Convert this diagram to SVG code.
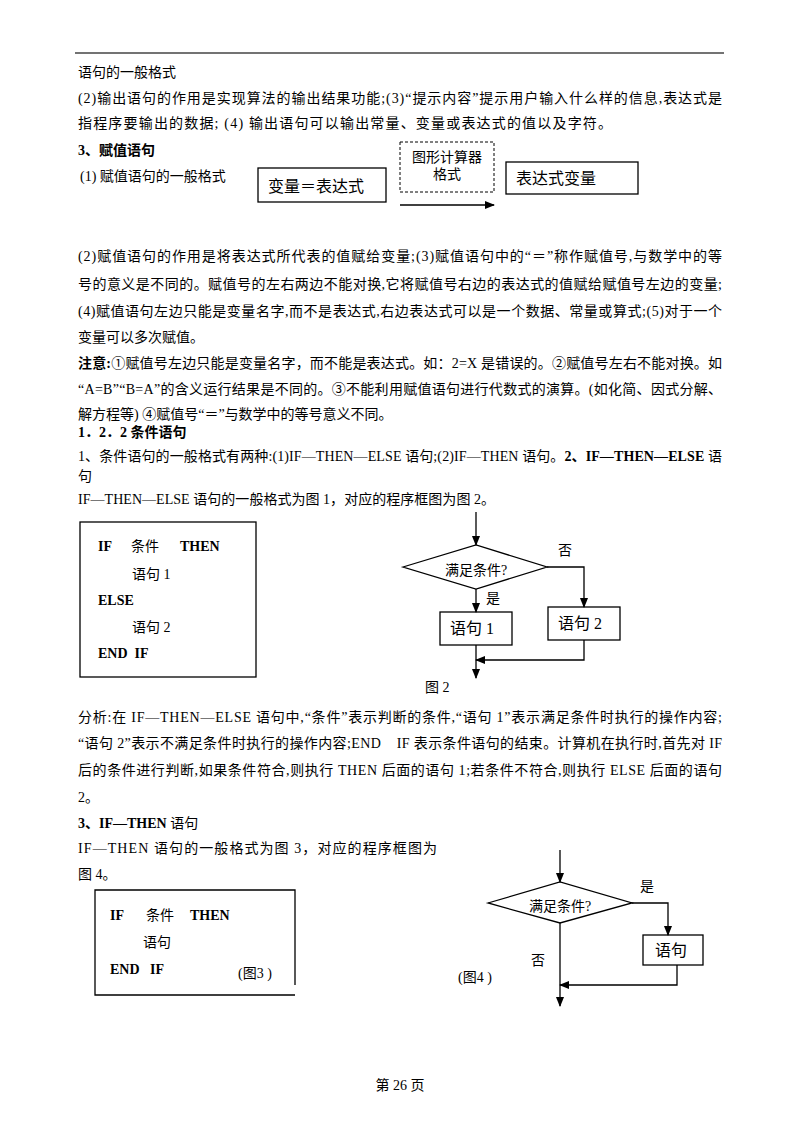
<svg xmlns="http://www.w3.org/2000/svg" width="800" height="1132" viewBox="0 0 800 1132">
<style>
text{font-family:"Liberation Serif","Noto Sans CJK SC",serif;font-size:14px;fill:#000;white-space:pre}
.b{font-weight:bold}
.l{font-size:16px}
.box{fill:#fff;stroke:#000;stroke-width:1.3}
.ln{fill:none;stroke:#000;stroke-width:1.3}
</style>
<defs><marker id="a" viewBox="0 0 10 10" refX="9" refY="5" markerWidth="8" markerHeight="8" orient="auto"><path d="M0,1L10,5L0,9z" fill="#000"/></marker></defs>
<rect width="800" height="1132" fill="#fff"/>
<line x1="75" y1="53" x2="724" y2="53" stroke="#444" stroke-width="1.5"/>
<text x="78" y="77">语句的一般格式</text>
<text x="78" y="103" textLength="644" lengthAdjust="spacing">(2)输出语句的作用是实现算法的输出结果功能;(3)“提示内容”提示用户输入什么样的信息,表达式是</text>
<text x="78" y="128" textLength="534" lengthAdjust="spacing">指程序要输出的数据; (4) 输出语句可以输出常量、变量或表达式的值以及字符。</text>
<text x="78" y="155" class="b">3、赋值语句</text>
<text x="80" y="181">(1) 赋值语句的一般格式</text>
<g id="n1"><rect class="box" x="258" y="168" width="128" height="34"/><text x="268" y="192" class="l">变量＝表达式</text></g>
<g id="n2"><rect x="400" y="142" width="94" height="50" fill="none" stroke="#000" stroke-dasharray="3,2"/><text x="447" y="162" text-anchor="middle">图形计算器</text><text x="447" y="179" text-anchor="middle">格式</text></g>
<g id="n3"><rect class="box" x="506" y="162" width="132" height="32"/><text x="516" y="184" class="l">表达式变量</text></g>
<g id="c0"><line class="ln" x1="400" y1="205" x2="494" y2="205" marker-end="url(#a)"/></g>
<text x="78" y="261" textLength="644" lengthAdjust="spacing">(2)赋值语句的作用是将表达式所代表的值赋给变量;(3)赋值语句中的“＝”称作赋值号,与数学中的等</text>
<text x="78" y="289" textLength="644" lengthAdjust="spacing">号的意义是不同的。赋值号的左右两边不能对换,它将赋值号右边的表达式的值赋给赋值号左边的变量;</text>
<text x="78" y="316" textLength="644" lengthAdjust="spacing">(4)赋值语句左边只能是变量名字,而不是表达式,右边表达式可以是一个数据、常量或算式;(5)对于一个</text>
<text x="78" y="342">变量可以多次赋值。</text>
<text x="78" y="368" textLength="644" lengthAdjust="spacing"><tspan class="b">注意:</tspan>①赋值号左边只能是变量名字，而不能是表达式。如：2=X 是错误的。②赋值号左右不能对换。如</text>
<text x="78" y="394" textLength="644" lengthAdjust="spacing">“A=B”“B=A”的含义运行结果是不同的。③不能利用赋值语句进行代数式的演算。(如化简、因式分解、</text>
<text x="78" y="419">解方程等) ④赋值号“＝”与数学中的等号意义不同。</text>
<text x="78" y="437" class="b">1．2．2 条件语句</text>
<text x="78" y="461" textLength="644" lengthAdjust="spacing">1、条件语句的一般格式有两种:(1)IF—THEN—ELSE 语句;(2)IF—THEN 语句。<tspan class="b">2、IF—THEN—ELSE</tspan> 语</text>
<text x="78" y="481">句</text>
<text x="78" y="504" textLength="417" lengthAdjust="spacing">IF—THEN—ELSE 语句的一般格式为图 1，对应的程序框图为图 2。</text>
<g id="f1"><rect class="box" x="80" y="522" width="176" height="155"/>
<text x="98" y="551" class="b">IF</text><text x="131" y="551">条件</text><text x="180" y="551" class="b">THEN</text>
<text x="132" y="579">语句 1</text>
<text x="98" y="605" class="b">ELSE</text>
<text x="132" y="632">语句 2</text>
<text x="98" y="658" class="b">END  IF</text></g>
<g id="d2"><polygon class="box" points="403,567 476,545 547,567 476,589"/><text x="476" y="575" text-anchor="middle">满足条件?</text></g>
<g id="s1"><rect class="box" x="440" y="612" width="72" height="33"/><text x="450" y="634" class="l">语句 1</text></g>
<g id="s2"><rect class="box" x="548" y="607" width="72" height="33"/><text x="558" y="629" class="l">语句 2</text></g>
<g id="c2">
<line class="ln" x1="476" y1="512" x2="476" y2="545" marker-end="url(#a)"/>
<line class="ln" x1="476" y1="589" x2="476" y2="612" marker-end="url(#a)"/>
<polyline class="ln" points="547,567 584,567 584,607" marker-end="url(#a)"/>
<polyline class="ln" points="584,640 584,660 476,660" marker-end="url(#a)"/>
<line class="ln" x1="476" y1="645" x2="476" y2="678" marker-end="url(#a)"/>
</g>
<text x="558" y="555">否</text><text x="486" y="603">是</text><text x="425" y="692">图 2</text>
<text x="78" y="722" textLength="644" lengthAdjust="spacing">分析:在 IF—THEN—ELSE 语句中,“条件”表示判断的条件,“语句 1”表示满足条件时执行的操作内容;</text>
<text x="78" y="748" textLength="644" lengthAdjust="spacing">“语句 2”表示不满足条件时执行的操作内容;END    IF 表示条件语句的结束。计算机在执行时,首先对 IF</text>
<text x="78" y="775" textLength="644" lengthAdjust="spacing">后的条件进行判断,如果条件符合,则执行 THEN 后面的语句 1;若条件不符合,则执行 ELSE 后面的语句</text>
<text x="78" y="802">2。</text>
<text x="78" y="828"><tspan class="b">3、IF—THEN</tspan> 语句</text>
<text x="78" y="853" textLength="359" lengthAdjust="spacing">IF—THEN 语句的一般格式为图 3，对应的程序框图为</text>
<text x="78" y="879">图 4。</text>
<g id="f3"><polyline class="ln" points="295,985 295,890 95,890 95,995 295,995"/>
<text x="110" y="920" class="b">IF</text><text x="146" y="920">条件</text><text x="190" y="920" class="b">THEN</text>
<text x="143" y="947">语句</text>
<text x="110" y="974" class="b">END   IF</text><text x="238" y="978">(图3 )</text></g>
<g id="d4"><polygon class="box" points="488,903 560,882 632,903 560,923"/><text x="560" y="911" text-anchor="middle">满足条件?</text></g>
<g id="s4"><rect class="box" x="643" y="935" width="60" height="30"/><text x="655" y="956" class="l">语句</text></g>
<g id="c4">
<line class="ln" x1="560" y1="850" x2="560" y2="882" marker-end="url(#a)"/>
<polyline class="ln" points="632,903 668,903 668,935" marker-end="url(#a)"/>
<polyline class="ln" points="677,965 677,985 560,985" marker-end="url(#a)"/>
<line class="ln" x1="560" y1="923" x2="560" y2="1006" marker-end="url(#a)"/>
</g>
<text x="640" y="891">是</text><text x="531" y="965">否</text><text x="458" y="982">(图4 )</text>
<text x="400" y="1090" text-anchor="middle" font-size="12">第 26 页</text>
</svg>
